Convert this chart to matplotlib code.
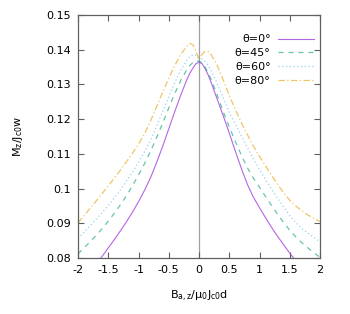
import numpy as np
import matplotlib
matplotlib.use("Agg")
import matplotlib.pyplot as plt

# applied field B_a,z / mu0 Jc0 d (shared by all curves)
field = [-2.0, -1.9, -1.8, -1.7, -1.6, -1.5, -1.4, -1.3, -1.2, -1.1, -1.0,
         -0.9, -0.8, -0.7, -0.6, -0.5, -0.4, -0.3, -0.2, -0.15, -0.1, -0.05,
         0.0, 0.05, 0.1, 0.15, 0.2, 0.3, 0.4, 0.5, 0.6, 0.7, 0.8, 0.9,
         1.0, 1.1, 1.2, 1.3, 1.4, 1.5, 1.6, 1.7, 1.8, 1.9, 2.0]

# magnetic moment M_z / Jc0 w for each field angle
m_0 = [0.0725, 0.0743, 0.0762, 0.0783, 0.0805, 0.0829, 0.0853, 0.0878, 0.0904, 0.0932, 0.0962,
       0.0995, 0.1032, 0.1075, 0.1122, 0.1172, 0.1222, 0.1270, 0.1314, 0.1333, 0.1347, 0.1360,
       0.1364, 0.1360, 0.1346, 0.1328, 0.1306, 0.1258, 0.1210, 0.1160, 0.1108, 0.1058, 0.1012, 0.0975,
       0.0945, 0.0916, 0.0888, 0.0862, 0.0838, 0.0814, 0.0792, 0.0772, 0.0752, 0.0734, 0.0717]
m_45 = [0.0812, 0.0829, 0.0847, 0.0865, 0.0885, 0.0906, 0.0929, 0.0953, 0.0979, 0.1008, 0.1039,
        0.1072, 0.1108, 0.1147, 0.1189, 0.1232, 0.1274, 0.1312, 0.1343, 0.1355, 0.1363, 0.1369,
        0.1367, 0.1362, 0.1350, 0.1334, 0.1315, 0.1270, 0.1222, 0.1178, 0.1136, 0.1096, 0.1060, 0.1030,
        0.1004, 0.0977, 0.0951, 0.0926, 0.0902, 0.0880, 0.0861, 0.0844, 0.0829, 0.0815, 0.0802]
m_60 = [0.0856, 0.0874, 0.0893, 0.0912, 0.0931, 0.0951, 0.0973, 0.0996, 0.1021, 0.1047, 0.1075,
        0.1106, 0.1140, 0.1180, 0.1222, 0.1264, 0.1306, 0.1341, 0.1370, 0.1381, 0.1385, 0.1384,
        0.1378, 0.1374, 0.1366, 0.1355, 0.1340, 0.1303, 0.1262, 0.1220, 0.1186, 0.1152, 0.1118, 0.1085,
        0.1055, 0.1026, 0.0998, 0.0972, 0.0947, 0.0922, 0.0902, 0.0885, 0.0872, 0.0859, 0.0847]
m_80 = [0.0901, 0.0922, 0.0943, 0.0964, 0.0986, 0.1008, 0.1030, 0.1053, 0.1077, 0.1102, 0.1128,
        0.1158, 0.1195, 0.1236, 0.1278, 0.1318, 0.1355, 0.1387, 0.1410, 0.1418, 0.1414, 0.1397,
        0.1370, 0.1387, 0.1395, 0.1395, 0.1386, 0.1355, 0.1313, 0.1268, 0.1228, 0.1190, 0.1155, 0.1122,
        0.1093, 0.1065, 0.1038, 0.1012, 0.0988, 0.0966, 0.0950, 0.0936, 0.0924, 0.0914, 0.0905]

labels = ["θ=0°", "θ=45°", "θ=60°", "θ=80°"]

plt.rcParams['font.family'] = 'DejaVu Sans'
plt.rcParams['axes.unicode_minus'] = False
plt.rcParams['font.size'] = 8

fig = plt.figure(figsize=(3.5, 3.14), dpi=100)
ax = fig.add_axes([78 / 350, 1 - 258 / 314, 242 / 350, 243 / 314])

ax.axvline(0, color='#a0a0a0', lw=0.9, zorder=1)
ax.plot(field, m_0, color='#a040e0', lw=0.8, alpha=0.8, label=labels[0])
ax.plot(field, m_45, color='#009e73', lw=0.9, alpha=0.6, ls=(0, (4, 4)), label=labels[1])
ax.plot(field, m_60, color='#56b4e9', lw=0.9, alpha=0.6, ls=(0, (1, 2)), label=labels[2])
ax.plot(field, m_80, color='#e69f00', lw=0.9, alpha=0.6, ls=(0, (5, 2, 1, 2)), label=labels[3])

ax.set_xlim(-2, 2)
ax.set_ylim(0.08, 0.15)
ax.set_xticks([-2, -1.5, -1, -0.5, 0, 0.5, 1, 1.5, 2])
ax.set_xticklabels(['-2', '-1.5', '-1', '-0.5', '0', '0.5', '1', '1.5', '2'])
ax.set_yticks([0.08, 0.09, 0.1, 0.11, 0.12, 0.13, 0.14, 0.15])
ax.set_yticklabels(['0.08', '0.09', '0.1', '0.11', '0.12', '0.13', '0.14', '0.15'])
ax.tick_params(direction='in', length=4, width=0.8, color='#606060',
               top=True, right=True, pad=5, labelcolor='black')
for s in ax.spines.values():
    s.set_color('#606060')
    s.set_linewidth(0.9)

ax.set_xlabel(r'B$_{\mathregular{a,z}}$/μ$_{\mathregular{0}}$J$_{\mathregular{c0}}$d', labelpad=10)
ax.set_ylabel(r'M$_{\mathregular{z}}$/J$_{\mathregular{c0}}$w', labelpad=15)

ax.legend(loc='upper right', bbox_to_anchor=(0.975, 0.92), frameon=False,
          markerfirst=False, handlelength=3.2, handletextpad=0.7,
          labelspacing=0.35, borderpad=0, borderaxespad=0, fontsize=8)

fig.savefig('out.png', dpi=100)
